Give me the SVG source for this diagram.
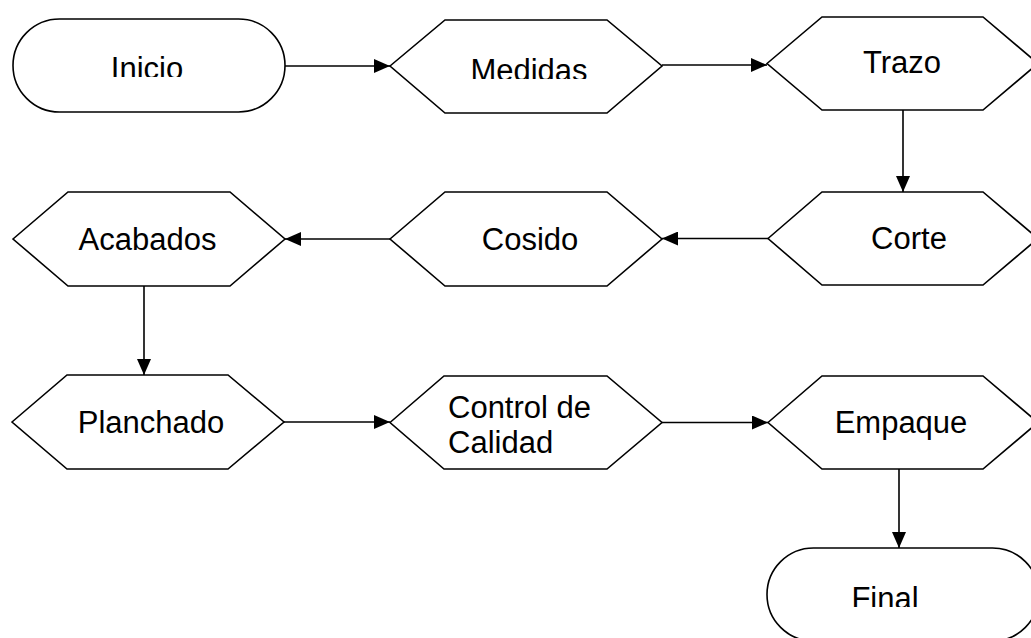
<svg xmlns="http://www.w3.org/2000/svg" width="1031" height="638" viewBox="0 0 1031 638">
<style>
.s{fill:#fff;stroke:#000;stroke-width:1.6}
.t{font-family:"Liberation Sans",Arial,sans-serif;font-size:31px;fill:#000}
.m{text-anchor:middle}
.c{fill:none;stroke:#000;stroke-width:1.6}
</style>
<defs>
<marker id="ah" markerUnits="userSpaceOnUse" markerWidth="16" markerHeight="14" refX="16" refY="7" orient="auto">
<path d="M0,0 L16,7 L0,14 Z" fill="#000"/>
</marker>
<clipPath id="cI"><rect x="0" y="0" width="300" height="77"/></clipPath>
<clipPath id="cM"><rect x="400" y="0" width="250" height="79"/></clipPath>
<clipPath id="cF"><rect x="780" y="560" width="240" height="47"/></clipPath>
</defs>
<rect width="1031" height="638" fill="#fff"/>
<g id="connectors">
<path class="c" d="M285,66 H390" marker-end="url(#ah)"/>
<path class="c" d="M662,65 H767" marker-end="url(#ah)"/>
<path class="c" d="M903,110 V192" marker-end="url(#ah)"/>
<path class="c" d="M768,238.5 H662" marker-end="url(#ah)"/>
<path class="c" d="M390,239 H285" marker-end="url(#ah)"/>
<path class="c" d="M144,286 V375" marker-end="url(#ah)"/>
<path class="c" d="M284,422 H390" marker-end="url(#ah)"/>
<path class="c" d="M662,422.5 H768" marker-end="url(#ah)"/>
<path class="c" d="M899,469 V548" marker-end="url(#ah)"/>
</g>
<g id="inicio">
<rect class="s" x="13" y="19" width="272" height="93" rx="46.5"/>
<text class="t m" x="147" y="79" clip-path="url(#cI)">Inicio</text>
</g>
<g id="medidas">
<polygon class="s" points="390,66 445,20 607,20 662,66 607,113 445,113"/>
<text class="t m" x="529" y="81" clip-path="url(#cM)">Medidas</text>
</g>
<g id="trazo">
<polygon class="s" points="767,63.5 822,17 983,17 1038,63.5 983,110 822,110"/>
<text class="t m" x="902" y="73">Trazo</text>
</g>
<g id="corte">
<polygon class="s" points="768,238.5 822,192 983,192 1038,238.5 983,285 822,285"/>
<text class="t m" x="909" y="249">Corte</text>
</g>
<g id="cosido">
<polygon class="s" points="390,239 445,192 607,192 662,239 607,286 445,286"/>
<text class="t m" x="530" y="250">Cosido</text>
</g>
<g id="acabados">
<polygon class="s" points="13,239 68,192 230,192 285,239 230,286 68,286"/>
<text class="t m" x="147.5" y="250">Acabados</text>
</g>
<g id="planchado">
<polygon class="s" points="12,422 67,375 228,375 284,422 228,469 67,469"/>
<text class="t m" x="151" y="433">Planchado</text>
</g>
<g id="control">
<polygon class="s" points="390,422.5 444,376 607,376 662,422.5 607,469 444,469"/>
<text class="t" x="448" y="418">Control de</text>
<text class="t" x="448" y="453">Calidad</text>
</g>
<g id="empaque">
<polygon class="s" points="768,422.5 822,376 983,376 1038,422.5 983,469 822,469"/>
<text class="t m" x="901" y="433">Empaque</text>
</g>
<g id="final">
<rect class="s" x="767" y="548" width="272" height="93" rx="46.5"/>
<text class="t m" x="885" y="609" clip-path="url(#cF)">Final</text>
</g>
</svg>
